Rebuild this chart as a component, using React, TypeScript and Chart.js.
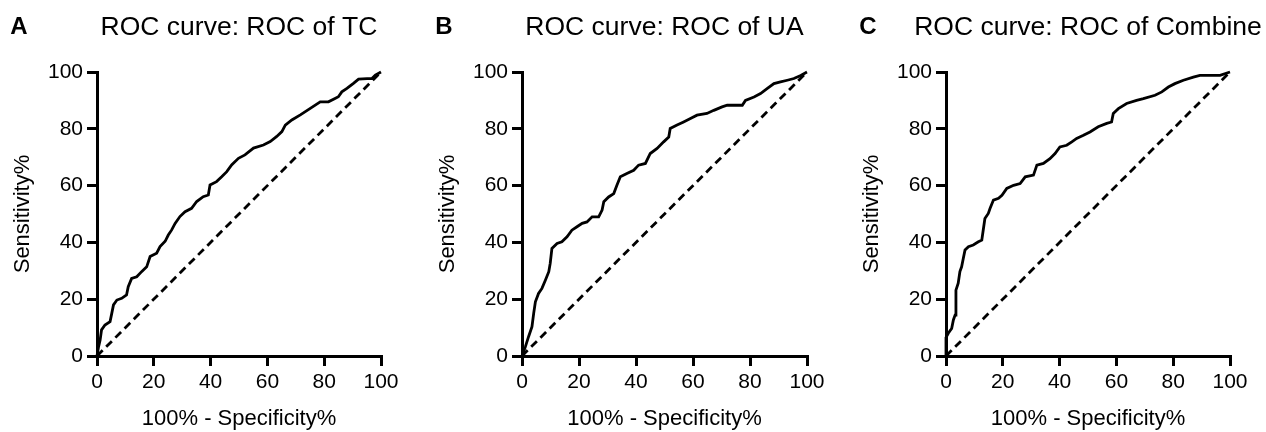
import React, { useEffect, useRef } from "react";
import { Chart, registerables } from "chart.js";

Chart.register(...registerables);

// ---- Data ----
const tcFpr = [0, 0.5, 1.1, 1.6, 2.8, 4.6, 5.2, 5.8, 7.0, 8.7, 10.4, 11.0, 12.2, 14.0, 15.7, 17.5, 18.7, 21.0, 22.2, 24.0, 25.1, 26.3, 27.5, 29.2, 31.0, 33.3, 35.1, 37.4, 39.2, 39.8, 42.1, 43.9, 45.7, 47.4, 49.8, 52.1, 55.1, 58.6, 61.0, 63.3, 65.1, 66.3, 68.6, 71.6, 75.1, 78.6, 81.5, 83.8, 85.0, 86.2, 88.0, 90.3, 92.1, 95.1, 96.8, 98.0, 100];
const tcTpr = [0, 3, 5.6, 9.2, 10.9, 12.1, 15, 18, 19.7, 20.3, 21.5, 24.4, 27.3, 27.9, 29.7, 31.4, 35, 36.2, 38.5, 40.4, 42.6, 44.4, 46.7, 49.1, 50.8, 52, 54.4, 56.1, 56.7, 60.2, 61.4, 63.1, 64.9, 67.3, 69.6, 70.8, 73.2, 74.3, 75.5, 77.3, 79, 81.3, 83.1, 84.9, 87.2, 89.5, 89.5, 90.7, 91.3, 93, 94.2, 96, 97.5, 97.7, 97.7, 98.9, 100];

const uaFpr = [0, 1.2, 2.3, 3.5, 4.1, 4.7, 5.8, 7.0, 8.2, 9.4, 9.9, 10.5, 12.3, 14.0, 15.8, 17.5, 19.3, 21.1, 22.8, 24.6, 26.9, 28.1, 28.7, 30.4, 32.2, 33.3, 34.5, 36.8, 39.2, 40.9, 43.3, 45.0, 47.4, 49.7, 51.5, 52.0, 54.4, 56.7, 59.1, 61.4, 64.9, 67.3, 70.2, 72.0, 77.3, 78.4, 81.4, 83.7, 86.1, 88.4, 90.7, 93.1, 95.4, 97.8, 100];
const uaTpr = [0, 3.3, 6.8, 10.3, 15, 19.1, 22, 23.8, 26.7, 29.7, 32.6, 37.9, 39.6, 40.2, 42, 44.3, 45.5, 46.7, 47.2, 49, 49, 51.4, 54.3, 56, 57.2, 60.1, 63.1, 64.3, 65.4, 67.2, 67.8, 71.3, 73.1, 75.4, 77.1, 80.1, 81.3, 82.4, 83.6, 84.8, 85.4, 86.5, 87.7, 88.3, 88.3, 90, 91.2, 92.4, 94.2, 95.9, 96.5, 97.1, 97.7, 98.8, 100];

const combineFpr = [0, 0, 0.8, 2.0, 2.6, 3.2, 3.5, 4.3, 4.9, 5.5, 6.1, 6.7, 7.9, 9.6, 11.4, 12.6, 13.1, 13.7, 14.9, 15.5, 16.7, 18.5, 19.7, 21.4, 23.8, 26.1, 27.9, 30.8, 32.0, 34.3, 36.6, 38.4, 40.1, 42.5, 44.3, 46.0, 48.4, 50.7, 53.6, 56.6, 58.3, 58.9, 60.7, 63.6, 67.1, 69.5, 73.6, 76.0, 78.3, 80.6, 83.6, 87.1, 89.4, 96.5, 100];
const combineTpr = [0, 6.5, 8, 9.7, 12.7, 14.4, 23.2, 25.6, 29.7, 31.4, 34.4, 37.3, 38.5, 39.1, 40.2, 40.8, 44.3, 48.4, 50.2, 51.9, 54.9, 55.5, 56.6, 59, 60.1, 60.7, 63.1, 63.7, 67.2, 67.8, 69.5, 71.3, 73.6, 74.2, 75.4, 76.6, 77.7, 78.9, 80.7, 81.9, 82.4, 85.4, 87.1, 88.9, 90, 90.6, 91.8, 93, 94.7, 95.9, 97.1, 98.2, 98.8, 98.8, 100];

const refLineX = [0, 100];
const refLineY = [0, 100];

const axisTicks = [0, 20, 40, 60, 80, 100];
const panelLetters = ["A", "B", "C"];
const panelTitles = ["ROC curve: ROC of TC", "ROC curve: ROC of UA", "ROC curve: ROC of Combine"];
const xAxisTitle = "100% - Specificity%";
const yAxisTitle = "Sensitivity%";

const FONT = '"Liberation Sans", Arial, Helvetica, sans-serif';

type PanelProps = {
  fpr: number[];
  tpr: number[];
  letter: string;
  title: string;
  left: number;
  width: number;
  rightPad: number;
};

function Panel({ fpr, tpr, letter, title, left, width, rightPad }: PanelProps) {
  const ref = useRef<HTMLCanvasElement | null>(null);

  useEffect(() => {
    const canvas = ref.current;
    if (!canvas) return;

    const headerPlugin = {
      id: "panelHeader",
      afterDraw(chart: any) {
        const { ctx, chartArea } = chart;
        ctx.save();
        ctx.fillStyle = "#000";
        ctx.textBaseline = "middle";
        ctx.textAlign = "center";
        ctx.font = `bold 24px ${FONT}`;
        ctx.fillText(letter, chartArea.left - 78, 27);
        ctx.font = `26.5px ${FONT}`;
        ctx.fillText(title, (chartArea.left + chartArea.right) / 2, 28);
        ctx.restore();
      },
    };

    const axisCommon = () => ({
      type: "linear" as const,
      min: 0,
      max: 100,
      afterBuildTicks: (s: any) => {
        s.ticks = axisTicks.map((v) => ({ value: v }));
      },
      ticks: {
        color: "#000",
        padding: 4,
        font: { size: 21, family: FONT },
        maxRotation: 0,
        autoSkip: false,
      },
      grid: {
        drawOnChartArea: false,
        drawTicks: true,
        tickLength: 10,
        color: "#000",
        lineWidth: 3,
      },
      border: { display: true, color: "#000", width: 3 },
    });

    const chart = new Chart(canvas, {
      type: "line",
      data: {
        datasets: [
          {
            data: fpr.map((x, i) => ({ x, y: tpr[i] })),
            borderColor: "#000",
            borderWidth: 2.8,
            pointRadius: 0,
            tension: 0,
            fill: false,
            clip: false,
          } as any,
          {
            data: refLineX.map((x, i) => ({ x, y: refLineY[i] })),
            borderColor: "#000",
            borderWidth: 2.8,
            borderDash: [8, 5],
            pointRadius: 0,
            tension: 0,
            fill: false,
            clip: false,
          } as any,
        ],
      },
      options: {
        responsive: false,
        animation: false,
        events: [],
        layout: { padding: { top: 72, right: rightPad, bottom: 0, left: 0 } },
        plugins: {
          legend: { display: false },
          tooltip: { enabled: false },
          title: { display: false },
        },
        scales: {
          x: {
            ...axisCommon(),
            afterFit: (s: any) => {
              s.height = 76;
            },
            title: {
              display: true,
              text: xAxisTitle,
              color: "#000",
              font: { size: 22, family: FONT },
              padding: { top: 0, bottom: 0 },
            },
          } as any,
          y: {
            ...axisCommon(),
            afterFit: (s: any) => {
              s.width = 97;
            },
            title: {
              display: true,
              text: yAxisTitle,
              color: "#000",
              font: { size: 22, family: FONT },
              padding: { top: 10, bottom: 0 },
            },
          } as any,
        },
      },
      plugins: [headerPlugin],
    });

    return () => {
      chart.destroy();
    };
  }, [fpr, tpr, letter, title, rightPad]);

  return (
    <canvas
      ref={ref}
      width={width}
      height={432}
      style={{ position: "absolute", left, top: 0, width, height: 432 }}
    />
  );
}

export default function App() {
  return (
    <div
      style={{
        position: "absolute",
        left: 0,
        top: 0,
        width: 1266,
        height: 432,
        background: "#fff",
        overflow: "hidden",
      }}
    >
      <Panel fpr={tcFpr} tpr={tcTpr} letter={panelLetters[0]} title={panelTitles[0]} left={0} width={424} rightPad={43} />
      <Panel fpr={uaFpr} tpr={uaTpr} letter={panelLetters[1]} title={panelTitles[1]} left={425} width={424} rightPad={42} />
      <Panel fpr={combineFpr} tpr={combineTpr} letter={panelLetters[2]} title={panelTitles[2]} left={849} width={417} rightPad={36} />
    </div>
  );
}
